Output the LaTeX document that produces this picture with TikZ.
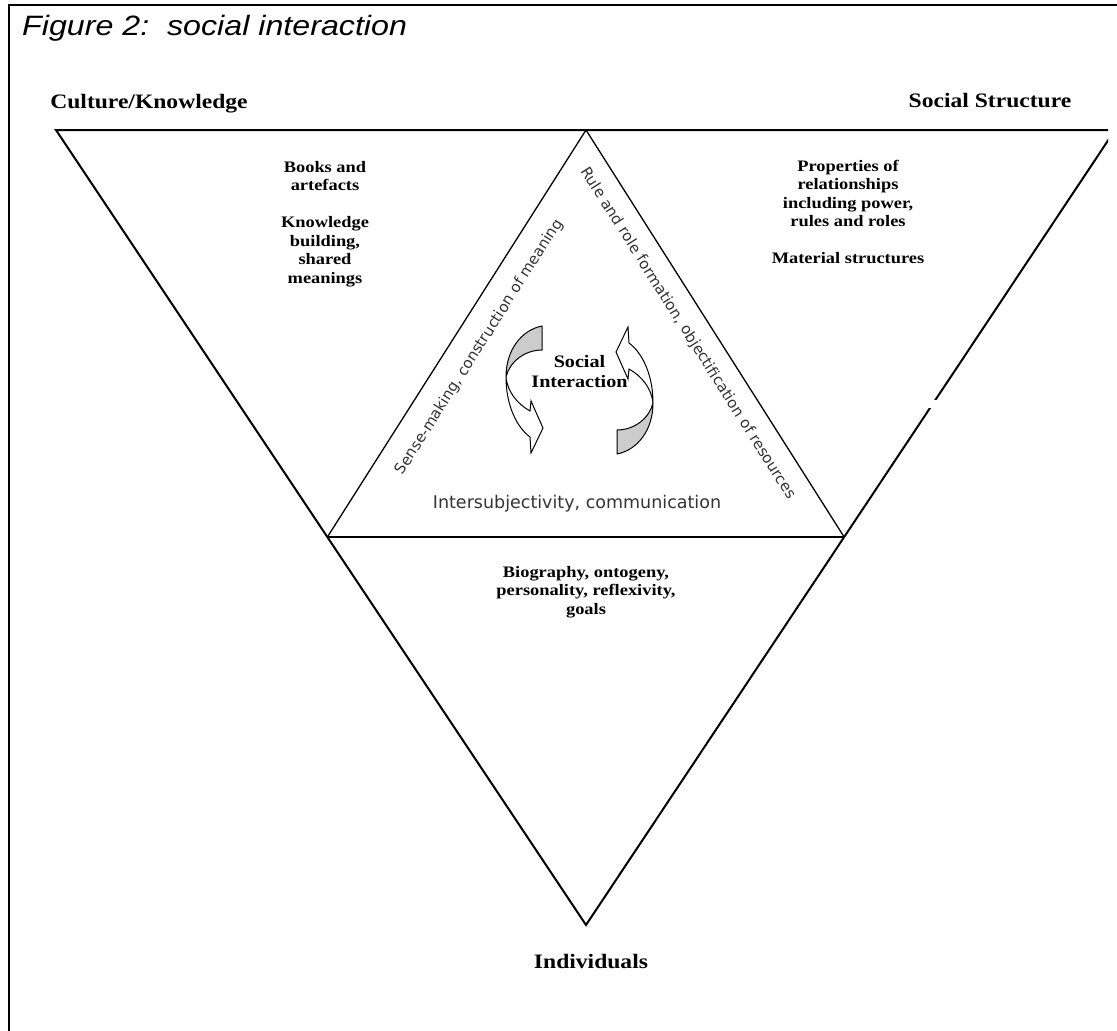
\documentclass[tikz,border=0pt]{standalone}
\usepackage{fontspec}
\usetikzlibrary{calc}
\setmainfont{Liberation Serif}[FakeStretch=1.15]
\newfontfamily\titlefont{Liberation Sans}[FakeStretch=1.15]
\newfontfamily\handfont{DejaVu Sans}
\begin{document}
\begin{tikzpicture}[x=1pt,y=-1pt,
  heading/.style={font=\fontsize{20.5}{24}\selectfont\bfseries, inner sep=0pt, anchor=base},
  body/.style={font=\fontsize{16}{18.5}\selectfont\bfseries, align=center, inner sep=0pt, anchor=north},
  hand/.style={font=\handfont\fontsize{15}{18}\selectfont, text=black!80, inner sep=0pt},
  outerline/.style={line width=2pt, line join=miter},
  innerline/.style={line width=1.3pt, line join=miter},
  ribbonback/.style={draw=black, line width=1pt, fill=black!20, line join=round},
  ribbonfront/.style={draw=black, line width=1pt, fill=white, line join=miter},
  twistarrow/.pic={
    % shaded back face of the curved ribbon
    \path[ribbonback] (-37.5,-64) .. controls (-58,-60) and (-73.5,-40) .. (-73.5,-13)
      .. controls (-70,-28) and (-55,-40) .. (-37.5,-40) -- cycle;
    % white front face ending in the arrow head
    \path[ribbonfront] (-73.5,-13) .. controls (-73.5,15) and (-63,37) .. (-49.5,47)
      -- (-48.5,63) -- (-36.5,38) -- (-48.5,11) -- (-49.5,21)
      .. controls (-62,14) and (-72,2) .. (-73.5,-13) -- cycle;
  }]
\useasboundingbox (0,0) rectangle (1117,1031);

% frame
\draw[line width=2.5pt] (9,1031) -- (9,5) -- (1117,5);

% corner points of the two triangles
\coordinate (TL) at (56,130);
\coordinate (TR) at (1115,130);
\coordinate (B) at (586,925);
\coordinate (T) at (586,130);
\coordinate (L) at ($(TL)!0.512!(B)$);
\coordinate (R) at ($(TR)!0.512!(B)$);

\begin{scope}
  \clip (0,0) rectangle (1108,1031);
  \draw[outerline] (TL) -- (TR) -- (B) -- cycle;
\end{scope}
\draw[outerline] (L) -- (R);
\draw[innerline] (L) -- (T) -- (R);
\fill[white] (929,400) rectangle (940,408);

% the two twisted arrows round the centre
\pic at (579.5,390) {twistarrow};
\pic[rotate=180] at (579.5,390) {twistarrow};

% labels
\node[font=\titlefont\itshape\fontsize{28}{32}\selectfont, anchor=base west, inner sep=0pt]
  (title) at (22,35) {Figure 2:\ \ social interaction};
\node[heading] (culture) at (149,108) {Culture/Knowledge};
\node[heading] (structure) at (990,107) {Social Structure};
\node[heading] (individuals) at (591,968) {Individuals};

\node[body] (artefacts) at (325,161) {Books and\\artefacts\\[18.5pt]Knowledge\\building,\\shared\\meanings};
\node[body] (relations) at (848,160) {Properties of\\relationships\\including power,\\rules and roles\\[18.5pt]Material structures};
\node[body] (biography) at (586,566) {Biography, ontogeny,\\personality, reflexivity,\\goals};

\node[font=\fontsize{17.5}{20}\selectfont\bfseries, align=center, inner sep=0pt, anchor=north]
  (social) at (579.5,355) {Social\\Interaction};

\node[hand, font=\handfont\fontsize{17.5}{20}\selectfont, anchor=base] (intersub) at (577,508) {Intersubjectivity, communication};
\node[hand, rotate=57.6] (sense) at (479.5,347) {Sense-making, construction of meaning};
\node[hand, rotate=-57.7] (rule) at (688,333.5) {Rule and role formation, objectification of resources};
\end{tikzpicture}
\end{document}
